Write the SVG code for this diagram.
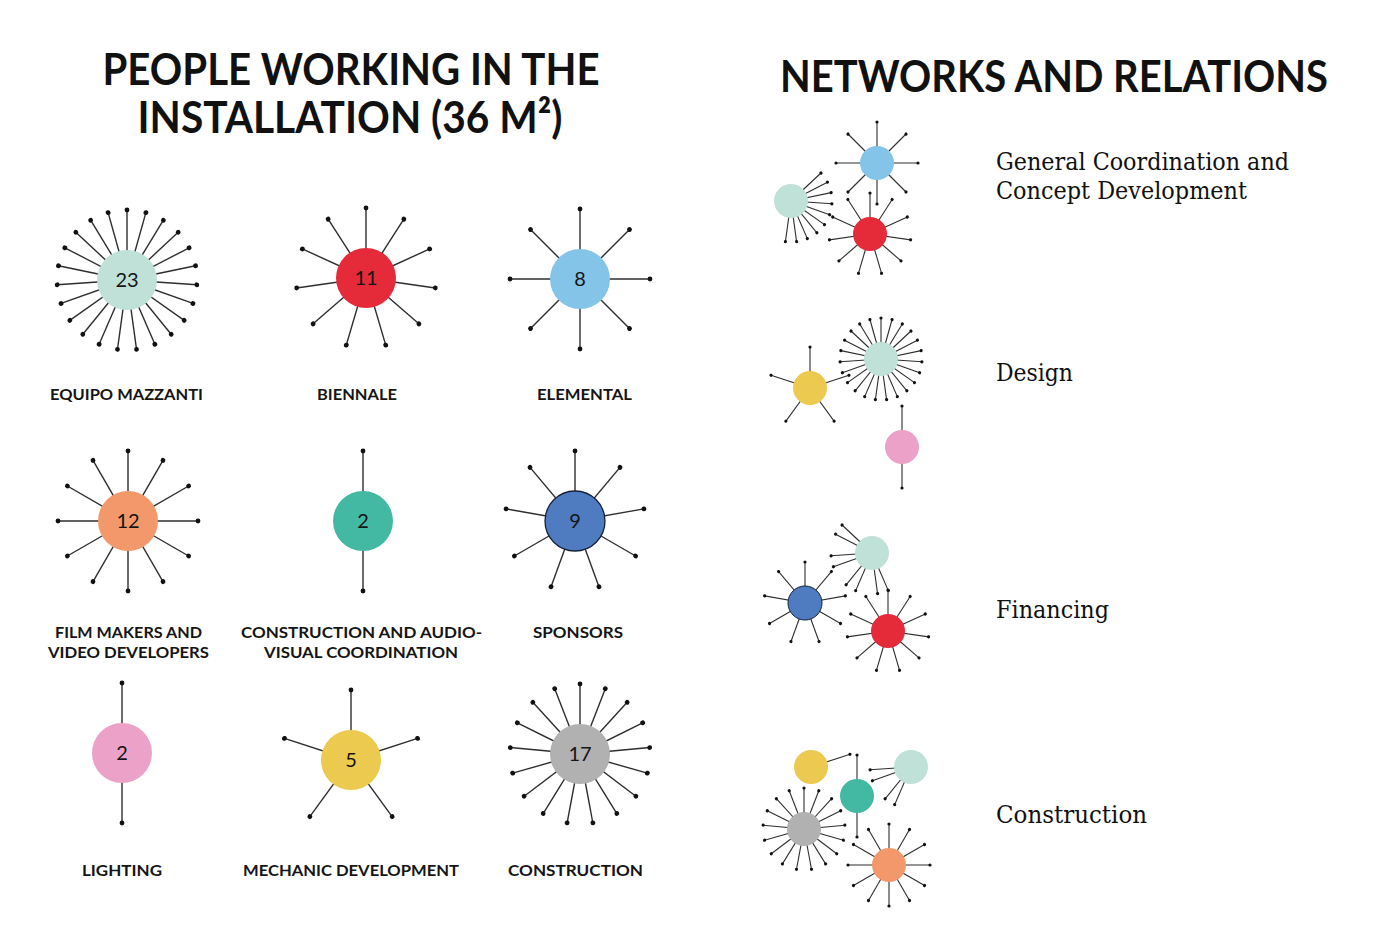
<svg xmlns="http://www.w3.org/2000/svg" xmlns:xlink="http://www.w3.org/1999/xlink" width="1400" height="938" viewBox="0 0 1400 938">
<style>
.title{font-family:Lato,"Open Sans","Liberation Sans",sans-serif;font-weight:700;font-size:44px;fill:#111;text-anchor:middle}
.lbl{font-family:Lato,"Open Sans","Liberation Sans",sans-serif;font-weight:700;font-size:16px;fill:#151515;text-anchor:middle}
.num{font-family:Lato,"Open Sans","Liberation Sans",sans-serif;font-weight:400;font-size:20px;fill:#151515;text-anchor:middle}
.ser{font-family:"DejaVu Serif","Liberation Serif",serif;font-size:24px;fill:#111}
</style>
<defs>
<g id="sb"><line x1="0" y1="0" x2="0" y2="-70" stroke="#2e2e2e" stroke-width="1.4"/><circle cx="0" cy="-70" r="2.4" fill="#111"/></g>
<g id="ss"><line x1="0" y1="0" x2="0" y2="-41" stroke="#2e2e2e" stroke-width="1.1"/><circle cx="0" cy="-41" r="1.6" fill="#111"/></g>
</defs>
<rect width="1400" height="938" fill="#fff"/>

<text class="title" x="351" y="85" textLength="497" lengthAdjust="spacingAndGlyphs">PEOPLE WORKING IN THE</text>
<text class="title" x="350" y="133" textLength="425" lengthAdjust="spacingAndGlyphs">INSTALLATION (36 M²)</text>
<text class="title" x="1054" y="92" textLength="548" lengthAdjust="spacingAndGlyphs">NETWORKS AND RELATIONS</text>

<!-- Equipo Mazzanti 23 -->
<g id="equipo-mazzanti">
<g transform="translate(127,280)">
<use href="#sb" transform="rotate(0)"/><use href="#sb" transform="rotate(15.652)"/><use href="#sb" transform="rotate(31.304)"/><use href="#sb" transform="rotate(46.957)"/><use href="#sb" transform="rotate(62.609)"/><use href="#sb" transform="rotate(78.261)"/><use href="#sb" transform="rotate(93.913)"/><use href="#sb" transform="rotate(109.565)"/><use href="#sb" transform="rotate(125.217)"/><use href="#sb" transform="rotate(140.870)"/><use href="#sb" transform="rotate(156.522)"/><use href="#sb" transform="rotate(172.174)"/><use href="#sb" transform="rotate(187.826)"/><use href="#sb" transform="rotate(203.478)"/><use href="#sb" transform="rotate(219.130)"/><use href="#sb" transform="rotate(234.783)"/><use href="#sb" transform="rotate(250.435)"/><use href="#sb" transform="rotate(266.087)"/><use href="#sb" transform="rotate(281.739)"/><use href="#sb" transform="rotate(297.391)"/><use href="#sb" transform="rotate(313.043)"/><use href="#sb" transform="rotate(328.696)"/><use href="#sb" transform="rotate(344.348)"/>
<circle r="30" fill="#bfe1d8"/>
<text class="num" y="7">23</text>
</g>
<text class="lbl" x="126.5" y="400" textLength="153" lengthAdjust="spacingAndGlyphs">EQUIPO MAZZANTI</text>
</g>

<!-- Biennale 11 -->
<g id="biennale">
<g transform="translate(366,278)">
<use href="#sb" transform="rotate(0)"/><use href="#sb" transform="rotate(32.727)"/><use href="#sb" transform="rotate(65.455)"/><use href="#sb" transform="rotate(98.182)"/><use href="#sb" transform="rotate(130.909)"/><use href="#sb" transform="rotate(163.636)"/><use href="#sb" transform="rotate(196.364)"/><use href="#sb" transform="rotate(229.091)"/><use href="#sb" transform="rotate(261.818)"/><use href="#sb" transform="rotate(294.545)"/><use href="#sb" transform="rotate(327.273)"/>
<circle r="30" fill="#e52a3a"/>
<text class="num" y="7">11</text>
</g>
<text class="lbl" x="357" y="400" textLength="80" lengthAdjust="spacingAndGlyphs">BIENNALE</text>
</g>

<!-- Elemental 8 -->
<g id="elemental">
<g transform="translate(580,279)">
<use href="#sb" transform="rotate(0)"/><use href="#sb" transform="rotate(45)"/><use href="#sb" transform="rotate(90)"/><use href="#sb" transform="rotate(135)"/><use href="#sb" transform="rotate(180)"/><use href="#sb" transform="rotate(225)"/><use href="#sb" transform="rotate(270)"/><use href="#sb" transform="rotate(315)"/>
<circle r="30" fill="#83c4e8"/>
<text class="num" y="7">8</text>
</g>
<text class="lbl" x="584.5" y="400" textLength="95" lengthAdjust="spacingAndGlyphs">ELEMENTAL</text>
</g>

<!-- Film makers 12 -->
<g id="film-makers">
<g transform="translate(128,521)">
<use href="#sb" transform="rotate(0)"/><use href="#sb" transform="rotate(30)"/><use href="#sb" transform="rotate(60)"/><use href="#sb" transform="rotate(90)"/><use href="#sb" transform="rotate(120)"/><use href="#sb" transform="rotate(150)"/><use href="#sb" transform="rotate(180)"/><use href="#sb" transform="rotate(210)"/><use href="#sb" transform="rotate(240)"/><use href="#sb" transform="rotate(270)"/><use href="#sb" transform="rotate(300)"/><use href="#sb" transform="rotate(330)"/>
<circle r="30" fill="#f3986a"/>
<text class="num" y="7">12</text>
</g>
<text class="lbl" x="128.5" y="638" textLength="147" lengthAdjust="spacingAndGlyphs">FILM MAKERS AND</text>
<text class="lbl" x="128.5" y="658" textLength="161" lengthAdjust="spacingAndGlyphs">VIDEO DEVELOPERS</text>
</g>

<!-- Construction and audiovisual coordination 2 -->
<g id="construction-audiovisual">
<g transform="translate(363,521)">
<use href="#sb" transform="rotate(0)"/><use href="#sb" transform="rotate(180)"/>
<circle r="30" fill="#43b8a3"/>
<text class="num" y="7">2</text>
</g>
<text class="lbl" x="361.5" y="638" textLength="241" lengthAdjust="spacingAndGlyphs">CONSTRUCTION AND AUDIO-</text>
<text class="lbl" x="361" y="658" textLength="194" lengthAdjust="spacingAndGlyphs">VISUAL COORDINATION</text>
</g>

<!-- Sponsors 9 -->
<g id="sponsors">
<g transform="translate(575,521)">
<use href="#sb" transform="rotate(0)"/><use href="#sb" transform="rotate(40)"/><use href="#sb" transform="rotate(80)"/><use href="#sb" transform="rotate(120)"/><use href="#sb" transform="rotate(160)"/><use href="#sb" transform="rotate(200)"/><use href="#sb" transform="rotate(240)"/><use href="#sb" transform="rotate(280)"/><use href="#sb" transform="rotate(320)"/>
<circle r="30" fill="#4f7cc0" stroke="#15213a" stroke-width="1.3"/>
<text class="num" y="7">9</text>
</g>
<text class="lbl" x="578" y="638" textLength="90" lengthAdjust="spacingAndGlyphs">SPONSORS</text>
</g>

<!-- Lighting 2 -->
<g id="lighting">
<g transform="translate(122,753)">
<use href="#sb" transform="rotate(0)"/><use href="#sb" transform="rotate(180)"/>
<circle r="30" fill="#eca1c8"/>
<text class="num" y="7">2</text>
</g>
<text class="lbl" x="122" y="876" textLength="80" lengthAdjust="spacingAndGlyphs">LIGHTING</text>
</g>

<!-- Mechanic development 5 -->
<g id="mechanic-development">
<g transform="translate(351,760)">
<use href="#sb" transform="rotate(0)"/><use href="#sb" transform="rotate(72)"/><use href="#sb" transform="rotate(144)"/><use href="#sb" transform="rotate(216)"/><use href="#sb" transform="rotate(288)"/>
<circle r="30" fill="#ecc94f"/>
<text class="num" y="7">5</text>
</g>
<text class="lbl" x="351" y="876" textLength="216" lengthAdjust="spacingAndGlyphs">MECHANIC DEVELOPMENT</text>
</g>

<!-- Construction 17 -->
<g id="construction">
<g transform="translate(580,754)">
<use href="#sb" transform="rotate(0)"/><use href="#sb" transform="rotate(21.176)"/><use href="#sb" transform="rotate(42.353)"/><use href="#sb" transform="rotate(63.529)"/><use href="#sb" transform="rotate(84.706)"/><use href="#sb" transform="rotate(105.882)"/><use href="#sb" transform="rotate(127.059)"/><use href="#sb" transform="rotate(148.235)"/><use href="#sb" transform="rotate(169.412)"/><use href="#sb" transform="rotate(190.588)"/><use href="#sb" transform="rotate(211.765)"/><use href="#sb" transform="rotate(232.941)"/><use href="#sb" transform="rotate(254.118)"/><use href="#sb" transform="rotate(275.294)"/><use href="#sb" transform="rotate(296.471)"/><use href="#sb" transform="rotate(317.647)"/><use href="#sb" transform="rotate(338.824)"/>
<circle r="30" fill="#b1b1b1"/>
<text class="num" y="7">17</text>
</g>
<text class="lbl" x="575.5" y="876" textLength="135" lengthAdjust="spacingAndGlyphs">CONSTRUCTION</text>
</g>

<!-- Network: General coordination -->
<g id="net-general">
<g transform="translate(877,163)">
<use href="#ss" transform="rotate(0)"/><use href="#ss" transform="rotate(45)"/><use href="#ss" transform="rotate(90)"/><use href="#ss" transform="rotate(135)"/><use href="#ss" transform="rotate(180)"/><use href="#ss" transform="rotate(225)"/><use href="#ss" transform="rotate(270)"/><use href="#ss" transform="rotate(315)"/>
<circle r="17" fill="#83c4e8"/>
</g>
<g transform="translate(870,234)">
<use href="#ss" transform="rotate(0)"/><use href="#ss" transform="rotate(32.727)"/><use href="#ss" transform="rotate(65.455)"/><use href="#ss" transform="rotate(98.182)"/><use href="#ss" transform="rotate(130.909)"/><use href="#ss" transform="rotate(163.636)"/><use href="#ss" transform="rotate(196.364)"/><use href="#ss" transform="rotate(229.091)"/><use href="#ss" transform="rotate(261.818)"/><use href="#ss" transform="rotate(294.545)"/><use href="#ss" transform="rotate(327.273)"/>
<circle r="17" fill="#e52a3a"/>
</g>
<g transform="translate(791,201)">
<use href="#ss" transform="rotate(46.957)"/><use href="#ss" transform="rotate(62.609)"/><use href="#ss" transform="rotate(78.261)"/><use href="#ss" transform="rotate(93.913)"/><use href="#ss" transform="rotate(109.565)"/><use href="#ss" transform="rotate(125.217)"/><use href="#ss" transform="rotate(140.870)"/><use href="#ss" transform="rotate(156.522)"/><use href="#ss" transform="rotate(172.174)"/><use href="#ss" transform="rotate(187.826)"/>
<circle r="17" fill="#bfe1d8"/>
</g>
<text class="ser" x="996" y="170" textLength="293" lengthAdjust="spacingAndGlyphs">General Coordination and</text>
<text class="ser" x="996" y="199" textLength="251" lengthAdjust="spacingAndGlyphs">Concept Development</text>
</g>

<!-- Network: Design -->
<g id="net-design">
<g transform="translate(810,388)">
<use href="#ss" transform="rotate(0)"/><use href="#ss" transform="rotate(72)"/><use href="#ss" transform="rotate(144)"/><use href="#ss" transform="rotate(216)"/><use href="#ss" transform="rotate(288)"/>
<circle r="17" fill="#ecc94f"/>
</g>
<g transform="translate(881,359)">
<use href="#ss" transform="rotate(0)"/><use href="#ss" transform="rotate(15.652)"/><use href="#ss" transform="rotate(31.304)"/><use href="#ss" transform="rotate(46.957)"/><use href="#ss" transform="rotate(62.609)"/><use href="#ss" transform="rotate(78.261)"/><use href="#ss" transform="rotate(93.913)"/><use href="#ss" transform="rotate(109.565)"/><use href="#ss" transform="rotate(125.217)"/><use href="#ss" transform="rotate(140.870)"/><use href="#ss" transform="rotate(156.522)"/><use href="#ss" transform="rotate(172.174)"/><use href="#ss" transform="rotate(187.826)"/><use href="#ss" transform="rotate(203.478)"/><use href="#ss" transform="rotate(219.130)"/><use href="#ss" transform="rotate(234.783)"/><use href="#ss" transform="rotate(250.435)"/><use href="#ss" transform="rotate(266.087)"/><use href="#ss" transform="rotate(281.739)"/><use href="#ss" transform="rotate(297.391)"/><use href="#ss" transform="rotate(313.043)"/><use href="#ss" transform="rotate(328.696)"/><use href="#ss" transform="rotate(344.348)"/>
<circle r="17" fill="#bfe1d8"/>
</g>
<g transform="translate(902,447)">
<use href="#ss" transform="rotate(0)"/><use href="#ss" transform="rotate(180)"/>
<circle r="17" fill="#eca1c8"/>
</g>
<text class="ser" x="996" y="381" textLength="77" lengthAdjust="spacingAndGlyphs">Design</text>
</g>

<!-- Network: Financing -->
<g id="net-financing">
<g transform="translate(805,603)">
<use href="#ss" transform="rotate(0)"/><use href="#ss" transform="rotate(40)"/><use href="#ss" transform="rotate(80)"/><use href="#ss" transform="rotate(120)"/><use href="#ss" transform="rotate(160)"/><use href="#ss" transform="rotate(200)"/><use href="#ss" transform="rotate(240)"/><use href="#ss" transform="rotate(280)"/><use href="#ss" transform="rotate(320)"/>
<circle r="17" fill="#4f7cc0" stroke="#15213a" stroke-width="1"/>
</g>
<g transform="translate(872,553)">
<use href="#ss" transform="rotate(156.522)"/><use href="#ss" transform="rotate(172.174)"/><use href="#ss" transform="rotate(203.478)"/><use href="#ss" transform="rotate(219.130)"/><use href="#ss" transform="rotate(250.435)"/><use href="#ss" transform="rotate(266.087)"/><use href="#ss" transform="rotate(297.391)"/><use href="#ss" transform="rotate(313.043)"/>
<circle r="17" fill="#bfe1d8"/>
</g>
<g transform="translate(888,631)">
<use href="#ss" transform="rotate(0)"/><use href="#ss" transform="rotate(32.727)"/><use href="#ss" transform="rotate(65.455)"/><use href="#ss" transform="rotate(98.182)"/><use href="#ss" transform="rotate(130.909)"/><use href="#ss" transform="rotate(163.636)"/><use href="#ss" transform="rotate(196.364)"/><use href="#ss" transform="rotate(229.091)"/><use href="#ss" transform="rotate(261.818)"/><use href="#ss" transform="rotate(294.545)"/><use href="#ss" transform="rotate(327.273)"/>
<circle r="17" fill="#e52a3a"/>
</g>
<text class="ser" x="996" y="618" textLength="113" lengthAdjust="spacingAndGlyphs">Financing</text>
</g>

<!-- Network: Construction -->
<g id="net-construction">
<g transform="translate(811,767)">
<use href="#ss" transform="rotate(72)"/>
<circle r="17" fill="#ecc94f"/>
</g>
<g transform="translate(857,796)">
<use href="#ss" transform="rotate(0)"/><use href="#ss" transform="rotate(180)"/>
<circle r="17" fill="#43b8a3"/>
</g>
<g transform="translate(911,767)">
<use href="#ss" transform="rotate(203.478)"/><use href="#ss" transform="rotate(219.130)"/><use href="#ss" transform="rotate(250.435)"/><use href="#ss" transform="rotate(266.087)"/>
<circle r="17" fill="#bfe1d8"/>
</g>
<g transform="translate(804,829)">
<use href="#ss" transform="rotate(0)"/><use href="#ss" transform="rotate(21.176)"/><use href="#ss" transform="rotate(42.353)"/><use href="#ss" transform="rotate(63.529)"/><use href="#ss" transform="rotate(84.706)"/><use href="#ss" transform="rotate(105.882)"/><use href="#ss" transform="rotate(127.059)"/><use href="#ss" transform="rotate(148.235)"/><use href="#ss" transform="rotate(169.412)"/><use href="#ss" transform="rotate(190.588)"/><use href="#ss" transform="rotate(211.765)"/><use href="#ss" transform="rotate(232.941)"/><use href="#ss" transform="rotate(254.118)"/><use href="#ss" transform="rotate(275.294)"/><use href="#ss" transform="rotate(296.471)"/><use href="#ss" transform="rotate(317.647)"/><use href="#ss" transform="rotate(338.824)"/>
<circle r="17" fill="#b1b1b1"/>
</g>
<g transform="translate(889,865)">
<use href="#ss" transform="rotate(0)"/><use href="#ss" transform="rotate(30)"/><use href="#ss" transform="rotate(60)"/><use href="#ss" transform="rotate(90)"/><use href="#ss" transform="rotate(120)"/><use href="#ss" transform="rotate(150)"/><use href="#ss" transform="rotate(180)"/><use href="#ss" transform="rotate(210)"/><use href="#ss" transform="rotate(240)"/><use href="#ss" transform="rotate(270)"/><use href="#ss" transform="rotate(300)"/><use href="#ss" transform="rotate(330)"/>
<circle r="17" fill="#f3986a"/>
</g>
<text class="ser" x="996" y="823" textLength="151" lengthAdjust="spacingAndGlyphs">Construction</text>
</g>
</svg>
